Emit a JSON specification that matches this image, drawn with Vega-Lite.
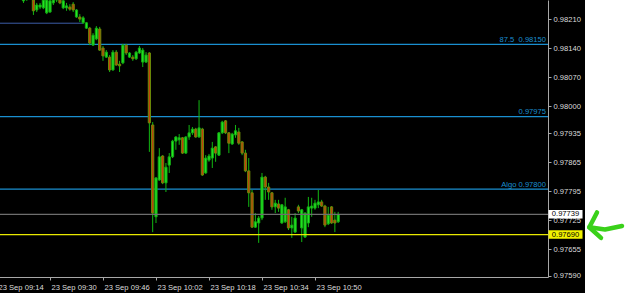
{
  "$schema": "https://vega.github.io/schema/vega-lite/v6.json",
  "width": 585,
  "height": 293,
  "autosize": {"type": "none"},
  "padding": {"left": 0, "top": 0, "right": 40, "bottom": 3},
  "background": "#ffffff",
  "config": {
    "view": {"fill": "#000000", "stroke": null},
    "font": "Liberation Sans",
    "axis": {"grid": false, "title": null, "labelFont": "Liberation Sans", "labelFontSize": 7.6, "labelColor": "#dcdcdc", "domainColor": "#a8a8a8", "tickColor": "#a8a8a8", "tickSize": 3, "domainWidth": 1, "tickWidth": 1}
  },
  "datasets": {
    "candles": [
      {"t": 8, "o": 0.98255, "h": 0.98267, "l": 0.98250, "c": 0.98260},
      {"t": 9, "o": 0.98260, "h": 0.98272, "l": 0.98255, "c": 0.98264},
      {"t": 10, "o": 0.98262, "h": 0.98276, "l": 0.98257, "c": 0.98269},
      {"t": 11, "o": 0.98257, "h": 0.98264, "l": 0.98221, "c": 0.98231},
      {"t": 12, "o": 0.98233, "h": 0.98250, "l": 0.98228, "c": 0.98245},
      {"t": 13, "o": 0.98240, "h": 0.98250, "l": 0.98235, "c": 0.98245},
      {"t": 14, "o": 0.98238, "h": 0.98264, "l": 0.98235, "c": 0.98257},
      {"t": 15, "o": 0.98226, "h": 0.98264, "l": 0.98223, "c": 0.98257},
      {"t": 16, "o": 0.98228, "h": 0.98262, "l": 0.98226, "c": 0.98255},
      {"t": 17, "o": 0.98250, "h": 0.98262, "l": 0.98245, "c": 0.98257},
      {"t": 18, "o": 0.98257, "h": 0.98267, "l": 0.98252, "c": 0.98262},
      {"t": 19, "o": 0.98257, "h": 0.98262, "l": 0.98247, "c": 0.98250},
      {"t": 20, "o": 0.98238, "h": 0.98260, "l": 0.98235, "c": 0.98255},
      {"t": 21, "o": 0.98238, "h": 0.98250, "l": 0.98231, "c": 0.98243},
      {"t": 22, "o": 0.98240, "h": 0.98247, "l": 0.98231, "c": 0.98235},
      {"t": 23, "o": 0.98247, "h": 0.98252, "l": 0.98228, "c": 0.98233},
      {"t": 24, "o": 0.98216, "h": 0.98235, "l": 0.98214, "c": 0.98233},
      {"t": 25, "o": 0.98216, "h": 0.98223, "l": 0.98204, "c": 0.98211},
      {"t": 26, "o": 0.98202, "h": 0.98218, "l": 0.98199, "c": 0.98214},
      {"t": 27, "o": 0.98189, "h": 0.98204, "l": 0.98187, "c": 0.98202},
      {"t": 28, "o": 0.98189, "h": 0.98192, "l": 0.98148, "c": 0.98153},
      {"t": 29, "o": 0.98148, "h": 0.98177, "l": 0.98146, "c": 0.98172},
      {"t": 30, "o": 0.98163, "h": 0.98194, "l": 0.98160, "c": 0.98189},
      {"t": 31, "o": 0.98187, "h": 0.98192, "l": 0.98134, "c": 0.98136},
      {"t": 32, "o": 0.98141, "h": 0.98146, "l": 0.98110, "c": 0.98122},
      {"t": 33, "o": 0.98119, "h": 0.98136, "l": 0.98117, "c": 0.98131},
      {"t": 34, "o": 0.98119, "h": 0.98124, "l": 0.98083, "c": 0.98088},
      {"t": 35, "o": 0.98088, "h": 0.98136, "l": 0.98086, "c": 0.98131},
      {"t": 36, "o": 0.98131, "h": 0.98136, "l": 0.98098, "c": 0.98100},
      {"t": 37, "o": 0.98102, "h": 0.98110, "l": 0.98083, "c": 0.98098},
      {"t": 38, "o": 0.98105, "h": 0.98151, "l": 0.98102, "c": 0.98148},
      {"t": 39, "o": 0.98148, "h": 0.98151, "l": 0.98124, "c": 0.98129},
      {"t": 40, "o": 0.98119, "h": 0.98131, "l": 0.98117, "c": 0.98129},
      {"t": 41, "o": 0.98119, "h": 0.98124, "l": 0.98110, "c": 0.98115},
      {"t": 42, "o": 0.98115, "h": 0.98134, "l": 0.98112, "c": 0.98131},
      {"t": 43, "o": 0.98129, "h": 0.98146, "l": 0.98127, "c": 0.98141},
      {"t": 44, "o": 0.98107, "h": 0.98141, "l": 0.98095, "c": 0.98136},
      {"t": 45, "o": 0.98107, "h": 0.98131, "l": 0.98105, "c": 0.98124},
      {"t": 46, "o": 0.98129, "h": 0.98131, "l": 0.97890, "c": 0.97960},
      {"t": 47, "o": 0.97955, "h": 0.97962, "l": 0.97696, "c": 0.97742},
      {"t": 48, "o": 0.97733, "h": 0.97829, "l": 0.97718, "c": 0.97827},
      {"t": 49, "o": 0.97822, "h": 0.97899, "l": 0.97820, "c": 0.97878},
      {"t": 50, "o": 0.97880, "h": 0.97882, "l": 0.97812, "c": 0.97815},
      {"t": 51, "o": 0.97815, "h": 0.97863, "l": 0.97793, "c": 0.97853},
      {"t": 52, "o": 0.97858, "h": 0.97887, "l": 0.97839, "c": 0.97878},
      {"t": 53, "o": 0.97878, "h": 0.97919, "l": 0.97875, "c": 0.97916},
      {"t": 54, "o": 0.97916, "h": 0.97928, "l": 0.97895, "c": 0.97926},
      {"t": 55, "o": 0.97919, "h": 0.97933, "l": 0.97907, "c": 0.97924},
      {"t": 56, "o": 0.97924, "h": 0.97926, "l": 0.97885, "c": 0.97887},
      {"t": 57, "o": 0.97887, "h": 0.97928, "l": 0.97885, "c": 0.97926},
      {"t": 58, "o": 0.97926, "h": 0.97955, "l": 0.97919, "c": 0.97936},
      {"t": 59, "o": 0.97936, "h": 0.97950, "l": 0.97931, "c": 0.97945},
      {"t": 60, "o": 0.97945, "h": 0.97948, "l": 0.97924, "c": 0.97926},
      {"t": 61, "o": 0.97926, "h": 0.98015, "l": 0.97924, "c": 0.97948},
      {"t": 62, "o": 0.97945, "h": 0.97948, "l": 0.97832, "c": 0.97834},
      {"t": 63, "o": 0.97839, "h": 0.97882, "l": 0.97837, "c": 0.97875},
      {"t": 64, "o": 0.97870, "h": 0.97885, "l": 0.97866, "c": 0.97880},
      {"t": 65, "o": 0.97875, "h": 0.97914, "l": 0.97851, "c": 0.97899},
      {"t": 66, "o": 0.97902, "h": 0.97904, "l": 0.97866, "c": 0.97887},
      {"t": 67, "o": 0.97882, "h": 0.97938, "l": 0.97880, "c": 0.97936},
      {"t": 68, "o": 0.97936, "h": 0.97965, "l": 0.97933, "c": 0.97962},
      {"t": 69, "o": 0.97965, "h": 0.97967, "l": 0.97933, "c": 0.97936},
      {"t": 70, "o": 0.97936, "h": 0.97938, "l": 0.97887, "c": 0.97911},
      {"t": 71, "o": 0.97909, "h": 0.97936, "l": 0.97907, "c": 0.97933},
      {"t": 72, "o": 0.97931, "h": 0.97955, "l": 0.97924, "c": 0.97941},
      {"t": 73, "o": 0.97938, "h": 0.97948, "l": 0.97907, "c": 0.97911},
      {"t": 74, "o": 0.97914, "h": 0.97916, "l": 0.97882, "c": 0.97887},
      {"t": 75, "o": 0.97887, "h": 0.97895, "l": 0.97841, "c": 0.97844},
      {"t": 76, "o": 0.97844, "h": 0.97875, "l": 0.97757, "c": 0.97791},
      {"t": 77, "o": 0.97791, "h": 0.97798, "l": 0.97706, "c": 0.97708},
      {"t": 78, "o": 0.97708, "h": 0.97742, "l": 0.97706, "c": 0.97721},
      {"t": 79, "o": 0.97718, "h": 0.97735, "l": 0.97670, "c": 0.97730},
      {"t": 80, "o": 0.97730, "h": 0.97839, "l": 0.97725, "c": 0.97829},
      {"t": 81, "o": 0.97829, "h": 0.97832, "l": 0.97774, "c": 0.97805},
      {"t": 82, "o": 0.97805, "h": 0.97815, "l": 0.97774, "c": 0.97793},
      {"t": 83, "o": 0.97791, "h": 0.97793, "l": 0.97750, "c": 0.97757},
      {"t": 84, "o": 0.97757, "h": 0.97774, "l": 0.97742, "c": 0.97766},
      {"t": 85, "o": 0.97764, "h": 0.97774, "l": 0.97745, "c": 0.97754},
      {"t": 86, "o": 0.97718, "h": 0.97764, "l": 0.97716, "c": 0.97762},
      {"t": 87, "o": 0.97721, "h": 0.97779, "l": 0.97718, "c": 0.97757},
      {"t": 88, "o": 0.97750, "h": 0.97752, "l": 0.97701, "c": 0.97706},
      {"t": 89, "o": 0.97706, "h": 0.97733, "l": 0.97682, "c": 0.97713},
      {"t": 90, "o": 0.97696, "h": 0.97742, "l": 0.97694, "c": 0.97730},
      {"t": 91, "o": 0.97757, "h": 0.97762, "l": 0.97742, "c": 0.97747},
      {"t": 92, "o": 0.97706, "h": 0.97752, "l": 0.97672, "c": 0.97750},
      {"t": 93, "o": 0.97684, "h": 0.97744, "l": 0.97682, "c": 0.97742},
      {"t": 94, "o": 0.97718, "h": 0.97781, "l": 0.97708, "c": 0.97757},
      {"t": 95, "o": 0.97754, "h": 0.97779, "l": 0.97733, "c": 0.97759},
      {"t": 96, "o": 0.97754, "h": 0.97774, "l": 0.97750, "c": 0.97766},
      {"t": 97, "o": 0.97762, "h": 0.97798, "l": 0.97754, "c": 0.97769},
      {"t": 98, "o": 0.97769, "h": 0.97774, "l": 0.97757, "c": 0.97759},
      {"t": 99, "o": 0.97759, "h": 0.97762, "l": 0.97708, "c": 0.97713},
      {"t": 100, "o": 0.97716, "h": 0.97757, "l": 0.97713, "c": 0.97737},
      {"t": 101, "o": 0.97757, "h": 0.97759, "l": 0.97716, "c": 0.97718},
      {"t": 102, "o": 0.97725, "h": 0.97745, "l": 0.97696, "c": 0.97718},
      {"t": 103, "o": 0.97721, "h": 0.97745, "l": 0.97718, "c": 0.97739}
    ]
  },
  "layer": [
    {
      "data": {"values": [{"p": 0.98201, "t1": 0, "t2": 26}]},
      "mark": {"type": "rule", "color": "#3c5ca8", "strokeWidth": 1, "clip": true},
      "encoding": {
        "x": {"field": "t1", "type": "quantitative",
              "scale": {"domain": [0, 166.34], "range": [-3, 548], "nice": false, "zero": false, "padding": 0},
              "axis": {"orient": "bottom", "offset": -16, "values": [0, 16, 32, 48, 64, 80, 96], "tickCount": 50,
                       "labelExpr": "'23 Sep ' + timeFormat(datetime(2020, 8, 23, 9, 14 + datum.value), '%H:%M')",
                       "labelAlign": "left", "labelBaseline": "top", "labelPadding": 3, "labelOffset": 1,
                       "labelFlush": false, "labelOverlap": false, "labelBound": false}},
        "x2": {"field": "t2"},
        "y": {"field": "p", "type": "quantitative",
              "scale": {"domain": [0.975875, 0.982571], "range": [277, 0], "nice": false, "zero": false, "padding": 0},
              "axis": {"orient": "right", "offset": -37, "tickCount": 50,
                       "values": [0.98210, 0.98140, 0.98070, 0.98000, 0.97935, 0.97865, 0.97795, 0.97725, 0.97655, 0.97590],
                       "format": ".5f", "labelPadding": 2, "labelFlush": false, "labelOverlap": false, "labelBound": false}}
      }
    },
    {
      "data": {"values": [{"p": 0.98150, "lbl": "87.5\u00a0\u00a00.98150"}, {"p": 0.97975, "lbl": "0.97975"}, {"p": 0.97800, "lbl": "Algo 0.97800"}]},
      "layer": [
        {
          "mark": {"type": "rule", "color": "#1a8fd0", "strokeWidth": 1.2, "clip": true},
          "encoding": {
            "x": {"datum": 0, "type": "quantitative"},
            "x2": {"datum": 166.34},
            "y": {"field": "p", "type": "quantitative"}
          }
        },
        {
          "mark": {"type": "text", "color": "#1a8fd0", "fontSize": 7.6, "align": "right", "baseline": "alphabetic", "dy": -2.5},
          "encoding": {
            "x": {"datum": 165.74, "type": "quantitative"},
            "y": {"field": "p", "type": "quantitative"},
            "text": {"field": "lbl"}
          }
        }
      ]
    },
    {
      "data": {"name": "candles"},
      "mark": {"type": "rule", "color": "#12b812", "strokeWidth": 1, "clip": true},
      "encoding": {
        "x": {"field": "t", "type": "quantitative"},
        "y": {"field": "l", "type": "quantitative"},
        "y2": {"field": "h"}
      }
    },
    {
      "data": {"name": "candles"},
      "mark": {"type": "bar", "size": 2.2, "strokeWidth": 1, "clip": true, "orient": "vertical"},
      "encoding": {
        "x": {"field": "t", "type": "quantitative"},
        "y": {"field": "o", "type": "quantitative"},
        "y2": {"field": "c"},
        "fill": {"condition": {"test": "datum.c >= datum.o", "value": "#22ea22"}, "value": "#c4400c"},
        "stroke": {"condition": {"test": "datum.c >= datum.o", "value": "#14a814"}, "value": "#6a8a08"}
      }
    },
    {
      "data": {"values": [{"p": 0.97739, "kind": "bid", "lbl": "0.97739"}, {"p": 0.97690, "kind": "ord", "lbl": "0.97690"}]},
      "layer": [
        {
          "mark": {"type": "rule", "strokeWidth": 1.3, "clip": true},
          "encoding": {
            "x": {"datum": 0, "type": "quantitative"},
            "x2": {"datum": 166.34},
            "y": {"field": "p", "type": "quantitative"},
            "color": {"field": "kind", "type": "nominal", "scale": {"domain": ["bid", "ord"], "range": ["#6e6e6e", "#e8e800"]}, "legend": null}
          }
        },
        {
          "mark": {"type": "point", "shape": "M-1,-0.25H1V0.25H-1Z", "size": 1156, "filled": true, "opacity": 1, "strokeWidth": 0},
          "encoding": {
            "x": {"datum": 171.63, "type": "quantitative"},
            "y": {"field": "p", "type": "quantitative"},
            "color": {"field": "kind", "type": "nominal", "scale": {"domain": ["bid", "ord"], "range": ["#ffffff", "#f2f200"]}, "legend": null}
          }
        },
        {
          "mark": {"type": "text", "color": "#000000", "fontSize": 7.6, "align": "center", "baseline": "middle"},
          "encoding": {
            "x": {"datum": 171.63, "type": "quantitative"},
            "y": {"field": "p", "type": "quantitative"},
            "text": {"field": "lbl"}
          }
        }
      ],
      "resolve": {"scale": {"color": "independent"}}
    },
    {
      "data": {"values": [
        {"g": "head", "i": 1, "t": 181.13, "p": 0.977435},
        {"g": "head", "i": 2, "t": 178.81, "p": 0.977077},
        {"g": "head", "i": 3, "t": 182.34, "p": 0.976819},
        {"g": "shaft", "i": 1, "t": 178.81, "p": 0.977077},
        {"g": "shaft", "i": 2, "t": 183.55, "p": 0.977024},
        {"g": "shaft", "i": 3, "t": 188.68, "p": 0.977109}
      ]},
      "mark": {"type": "line", "color": "#3ad11a", "strokeWidth": 4.5, "strokeCap": "round", "strokeJoin": "round", "clip": false},
      "encoding": {
        "x": {"field": "t", "type": "quantitative"},
        "y": {"field": "p", "type": "quantitative"},
        "detail": {"field": "g"},
        "order": {"field": "i"}
      }
    }
  ]
}
